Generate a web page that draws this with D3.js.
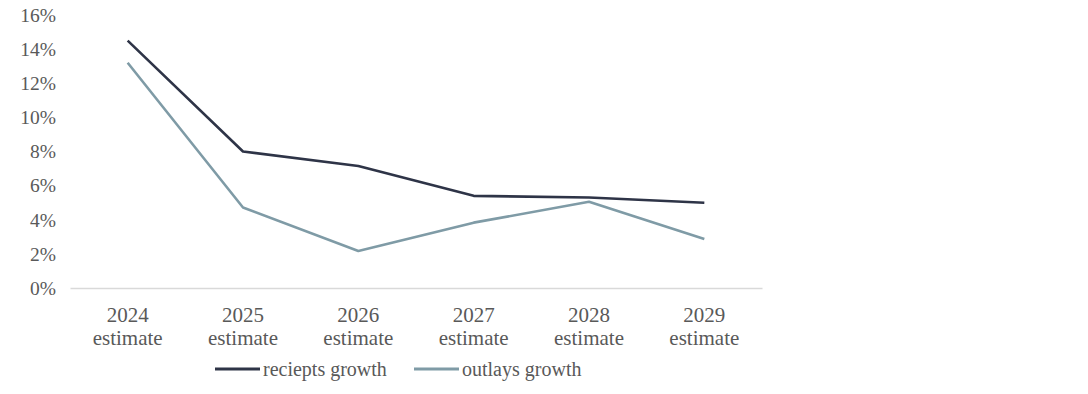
<!DOCTYPE html>
<html>
<head>
<meta charset="utf-8">
<script src="https://cdn.jsdelivr.net/npm/d3@7"></script>
<style>
  html, body { margin: 0; padding: 0; background: #fff; }
  svg { display: block; }
  text { font-family: "Liberation Serif", "Times New Roman", serif; fill: #595959; }
</style>
</head>
<body>
<svg id="chart" width="1088" height="394"></svg>
<script>
const years = ["2024", "2025", "2026", "2027", "2028", "2029"];
const categoryLabels = ["2024 estimate", "2025 estimate", "2026 estimate", "2027 estimate", "2028 estimate", "2029 estimate"];
const receiptsGrowth = [14.5, 8.0, 7.15, 5.4, 5.3, 5.0];
const outlaysGrowth = [13.2, 4.72, 2.17, 3.83, 5.05, 2.87];
const yTicks = [0, 2, 4, 6, 8, 10, 12, 14, 16];
const seriesNames = ["reciepts growth", "outlays growth"];

(function () {
const svg = d3.select("#chart");
const plotLeft = 70, plotRight = 762, plotTop = 15, plotBottom = 288;

const x = d3.scaleBand().domain(years).range([plotLeft, plotRight]).padding(0);
const y = d3.scaleLinear().domain([0, 16]).range([plotBottom, plotTop]);

// y axis labels
const yAxis = d3.axisLeft(y).tickValues(yTicks).tickFormat(d => d + "%").tickSize(0).tickPadding(14);
const yg = svg.append("g").attr("transform", `translate(${plotLeft},0)`).call(yAxis);
yg.select(".domain").remove();
yg.selectAll("text").attr("font-size", 19.5).attr("fill", "#595959")
  .style("font-family", '"Liberation Serif", "Times New Roman", serif');

// x axis line
const xAxis = d3.axisBottom(x).tickSize(0).tickFormat("");
const xg = svg.append("g").attr("transform", `translate(0,${plotBottom})`).call(xAxis);
xg.select(".domain").attr("stroke", "#d9d9d9").attr("stroke-width", 1.5);

// x labels (two lines)
years.forEach((yr, i) => {
  const parts = categoryLabels[i].split(" ");
  const cx = x(yr) + x.bandwidth() / 2;
  const t = svg.append("text")
    .attr("text-anchor", "middle")
    .attr("font-size", 21);
  t.append("tspan").attr("x", cx).attr("y", 322).text(parts[0]);
  t.append("tspan").attr("x", cx).attr("y", 345).text(parts[1]);
});

const line = d3.line()
  .x((d, i) => x(years[i]) + x.bandwidth() / 2)
  .y(d => y(d));

const colors = ["#2e3447", "#7f9ba6"];

svg.append("path").datum(outlaysGrowth)
  .attr("d", line).attr("fill", "none")
  .attr("stroke", colors[1]).attr("stroke-width", 2.6).attr("stroke-linejoin", "round");
svg.append("path").datum(receiptsGrowth)
  .attr("d", line).attr("fill", "none")
  .attr("stroke", colors[0]).attr("stroke-width", 2.6).attr("stroke-linejoin", "round");

// legend
const legendItems = [
  { name: seriesNames[0], color: colors[0], x0: 215 },
  { name: seriesNames[1], color: colors[1], x0: 414 }
];
legendItems.forEach(it => {
  svg.append("line")
    .attr("x1", it.x0).attr("x2", it.x0 + 45)
    .attr("y1", 369).attr("y2", 369)
    .attr("stroke", it.color).attr("stroke-width", 3);
  svg.append("text")
    .attr("x", it.x0 + 48).attr("y", 376)
    .attr("font-size", 20)
    .text(it.name);
});
})();
</script>
</body>
</html>
